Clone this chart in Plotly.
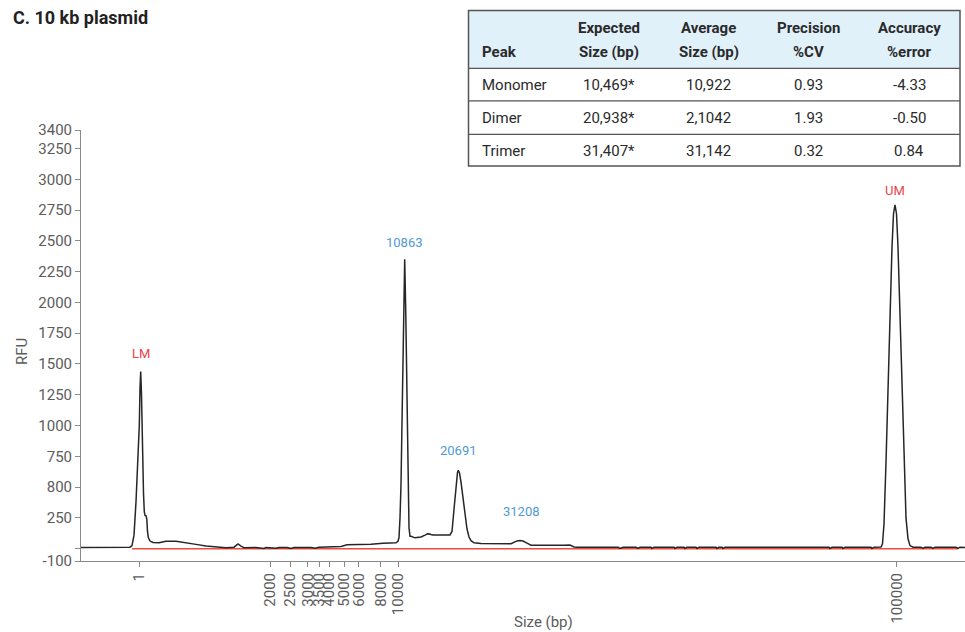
import plotly.graph_objects as go

# Electropherogram trace: migration time (s) and fluorescence (RFU)
migration_time = [
    0.0, 2.0, 4.5, 4.9, 5.1, 5.3, 5.5, 5.65, 5.73, 5.83, 5.9, 5.97, 6.05, 6.12,
    6.17, 6.25, 6.33, 6.4, 6.5, 6.58, 6.65, 6.73, 6.9, 7.2, 7.8, 8.5, 9.5, 10.5,
    11.5, 12.5, 13.5, 14.5, 15.3, 15.7, 16.0, 16.3, 17.5, 18.3, 18.5, 19.5,
    19.8, 20.6, 21.0, 21.3, 23.0, 23.4, 23.8, 24.5, 26.0, 26.6, 29.0, 30.2,
    31.5, 31.7, 31.8, 31.9, 32.0, 32.13, 32.25, 32.37, 32.48, 32.6, 32.7, 32.8,
    32.9, 33.0, 33.4, 34.0, 34.4, 34.7, 35.0, 35.2, 36.9, 37.1, 37.3, 37.5,
    37.65, 37.73, 37.85, 38.0, 38.2, 38.4, 38.6, 38.8, 39.0, 39.3, 40.0, 43.0,
    43.3, 43.6, 43.9, 44.2, 44.6, 45.0, 48.3, 48.6, 48.9, 49.3, 49.6, 53.7,
    53.9, 54.2, 55.5, 55.7, 55.9, 57.0, 57.1, 57.3, 59.3, 59.4, 59.6, 60.3,
    60.4, 60.6, 61.5, 61.6, 61.8, 63.5, 63.6, 63.8, 64.1, 64.2, 64.4, 74.8,
    74.9, 75.1, 76.1, 76.2, 76.4, 79.0, 79.1, 79.3, 80.0, 80.15, 80.3, 80.5,
    80.73, 80.9, 81.1, 81.25, 81.4, 81.55, 81.7, 81.9, 82.07, 82.3, 82.5, 82.7,
    82.9, 83.2, 84.0, 84.2, 84.4, 85.0, 85.2, 85.4, 87.5, 87.7, 87.9, 88.4,
]
rfu = [
    10, 10, 10, 12, 25, 110, 380, 620, 720, 1000, 1300, 1439, 1250, 900,
    720, 450, 300, 270, 268, 240, 140, 90, 62, 50, 48, 60, 60, 50,
    35, 22, 12, 8, 12, 38, 20, 8, 10, 2, 10, 3,
    10, 10, 2, 10, 10, 3, 11, 12, 17, 32, 36, 45,
    48, 60, 90, 250, 520, 1175, 1900, 2350, 1900, 1175, 520, 170,
    100, 100, 88, 95, 110, 122, 115, 112, 112, 140, 320, 520,
    620, 636, 615, 540, 400, 270, 160, 95, 65, 48, 42, 40,
    52, 63, 66, 62, 45, 28, 28, 32, 30, 14, 12, 12,
    2, 12, 12, 2, 12, 12, 2, 12, 12, 2, 12, 12,
    2, 12, 12, 2, 12, 12, 2, 12, 12, 2, 12, 12,
    2, 12, 12, 2, 12, 12, 2, 12, 14, 40, 200, 700,
    1395, 1850, 2450, 2720, 2791, 2720, 2450, 1900, 1395, 700, 250, 80,
    25, 12, 12, 2, 12, 12, 2, 12, 12, 2, 12, 10,
]

# Analysis baseline (drawn in red)
baseline_time = [5.1, 87.7]
baseline_rfu = [0, 0]

# Ladder calibration: migration time of each sizing tick
ladder_time = [5.83, 18.9, 20.9, 22.67, 23.8, 24.83, 26.33, 27.77, 29.97, 31.73, 81.57]
ladder_label = ["1", "2000", "2500", "3000", "3500", "4000", "5000", "6000", "8000", "10000", "100000"]

# RFU axis ticks
rfu_tickvals = [-100, 0, 250, 500, 750, 1000, 1250, 1500, 1750, 2000, 2250, 2500, 2750, 3000, 3250, 3400]
rfu_ticktext = ["-100", "", "250", "800", "750", "1000", "1250", "1500", "1750", "2000",
                "2250", "2500", "2750", "3000", "3250", "3400"]

# Called peaks: label text, time, height, label colour group
peak_text = ["LM", "10863", "20691", "31208", "UM"]
peak_time = [5.97, 32.37, 37.73, 44.0, 81.4]
peak_rfu = [1439, 2350, 636, 66, 2791]
peak_is_marker = [True, False, False, False, True]
peak_shift = [18, 17, 20, 29, 14]

# Summary table
table_header_top = ["", "Expected", "Average", "Precision", "Accuracy"]
table_header_bottom = ["Peak", "Size (bp)", "Size (bp)", "%CV", "%error"]
table_peak = ["Monomer", "Dimer", "Trimer"]
table_expected = ["10,469*", "20,938*", "31,407*"]
table_average = ["10,922", "2,1042", "31,142"]
table_cv = ["0.93", "1.93", "0.32"]
table_error = ["-4.33", "-0.50", "0.84"]

W, H = 965, 632
ML, MR, MT, MB = 81, 0, 130, 71
PW, PH = W - ML - MR, H - MT - MB


def fx(px):
    return (px - ML) / PW


def fy(py):
    return (H - MB - py) / PH


FONT = "Roboto"
TICK_COLOR = "#5c5c5c"
AXIS_COLOR = "#8a8a8a"
TEXT_COLOR = "#2a2a2a"

fig = go.Figure()
fig.add_trace(go.Scatter(
    x=baseline_time, y=baseline_rfu, mode="lines",
    line=dict(color="#f04b3c", width=1.6), hoverinfo="skip", showlegend=False,
))
fig.add_trace(go.Scatter(
    x=migration_time, y=rfu, mode="lines",
    line=dict(color="#262626", width=1.5), showlegend=False,
))

annotations = []
for text, t, h, marker, shift in zip(peak_text, peak_time, peak_rfu, peak_is_marker, peak_shift):
    annotations.append(dict(
        x=t, y=h, xref="x", yref="y", text=text, showarrow=False,
        yshift=shift, font=dict(family=FONT, size=13, color="#e8434a" if marker else "#4f9ad6"),
    ))

# Chart title and axis titles
annotations.append(dict(
    x=fx(11), y=fy(17), xref="paper", yref="paper", text="<b>C. 10 kb plasmid</b>",
    showarrow=False, xanchor="left", yanchor="middle",
    font=dict(family=FONT, size=18, color="#222222"),
))
annotations.append(dict(
    x=fx(22), y=fy(352), xref="paper", yref="paper", text="RFU", textangle=-90,
    showarrow=False, xanchor="center", yanchor="middle",
    font=dict(family=FONT, size=15, color=TICK_COLOR),
))
annotations.append(dict(
    x=fx(543), y=fy(622), xref="paper", yref="paper", text="Size (bp)",
    showarrow=False, xanchor="center", yanchor="middle",
    font=dict(family=FONT, size=15, color=TICK_COLOR),
))

# Table geometry
T_X0, T_X1 = 468.5, 960
T_Y0, T_HEAD, T_Y1 = 10.5, 68.3, 166
row_lines = [100.8, 134.3]
row_centers = [85.5, 118.3, 151.3]
head_centers = [27.7, 51.7]
col_centers = [480, 608.7, 708.7, 808.7, 909]

shapes = [
    dict(type="rect", xref="paper", yref="paper", x0=fx(T_X0), x1=fx(T_X1), y0=fy(T_Y0), y1=fy(T_HEAD),
         fillcolor="#e1f1fa", line=dict(width=0), layer="above"),
    dict(type="line", xref="paper", yref="paper", x0=fx(T_X0), x1=fx(T_X1), y0=fy(T_HEAD), y1=fy(T_HEAD),
         line=dict(color="#555555", width=1.3), layer="above"),
]
for ry in row_lines:
    shapes.append(dict(type="line", xref="paper", yref="paper", x0=fx(T_X0), x1=fx(T_X1), y0=fy(ry), y1=fy(ry),
                       line=dict(color="#555555", width=1.3), layer="above"))
shapes.append(dict(type="rect", xref="paper", yref="paper", x0=fx(T_X0), x1=fx(T_X1), y0=fy(T_Y0), y1=fy(T_Y1),
                   fillcolor="rgba(0,0,0,0)", line=dict(color="#555555", width=1.5), layer="above"))

for line_y, heads in zip(head_centers, [table_header_top, table_header_bottom]):
    for i, head in enumerate(heads):
        if not head:
            continue
        annotations.append(dict(
            x=fx(col_centers[i]), y=fy(line_y), xref="paper", yref="paper", text=f"<b>{head}</b>",
            showarrow=False, xanchor="left" if i == 0 else "center", yanchor="middle",
            font=dict(family=FONT, size=15, color=TEXT_COLOR),
        ))
columns = [table_peak, table_expected, table_average, table_cv, table_error]
for i, col in enumerate(columns):
    for r, val in enumerate(col):
        annotations.append(dict(
            x=fx(col_centers[i]), y=fy(row_centers[r]), xref="paper", yref="paper", text=val,
            showarrow=False, xanchor="left" if i == 0 else "center", yanchor="middle",
            font=dict(family=FONT, size=15, color=TEXT_COLOR),
        ))

fig.update_layout(
    width=W, height=H,
    margin=dict(l=ML, r=MR, t=MT, b=MB, pad=0),
    paper_bgcolor="white", plot_bgcolor="white",
    font=dict(family=FONT, color=TICK_COLOR),
    annotations=annotations, shapes=shapes,
    xaxis=dict(
        range=[0, PW / 10], tickmode="array", tickvals=ladder_time, ticktext=ladder_label,
        tickangle=-90, ticks="outside", ticklen=5, tickcolor=AXIS_COLOR,
        showline=True, linecolor=AXIS_COLOR, linewidth=1, showgrid=False, zeroline=False,
        tickfont=dict(family=FONT, size=15, color=TICK_COLOR),
    ),
    yaxis=dict(
        range=[-100, 3400], tickmode="array", tickvals=rfu_tickvals, ticktext=rfu_ticktext,
        ticks="outside", ticklen=5, tickcolor=AXIS_COLOR,
        showline=True, linecolor=AXIS_COLOR, linewidth=1, showgrid=False, zeroline=False,
        tickfont=dict(family=FONT, size=15, color=TICK_COLOR),
    ),
)

fig.write_html("out.html")
